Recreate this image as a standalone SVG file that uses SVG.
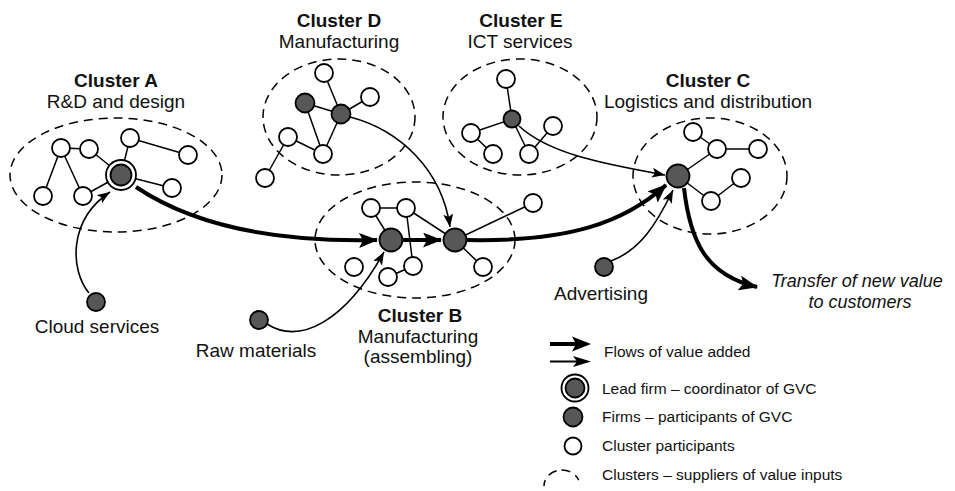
<svg xmlns="http://www.w3.org/2000/svg" width="955" height="491" viewBox="0 0 955 491">
<style>
text{font-family:"Liberation Sans",Arial,sans-serif;fill:#111;}
.lb{font-size:19px;text-anchor:middle;}
.lbb{font-size:19px;font-weight:bold;text-anchor:middle;}
.it{font-size:18px;font-style:italic;text-anchor:middle;}
.lg{font-size:15.5px;}
.cl{fill:none;stroke:#000;stroke-width:1.5;stroke-dasharray:9 6;}
.e{fill:none;stroke:#000;stroke-width:1.5;}
.w{fill:#fff;stroke:#000;stroke-width:1.8;}
.d{fill:#575757;stroke:#000;stroke-width:1.8;}
.thick{fill:none;stroke:#000;stroke-width:4;}
.thin{fill:none;stroke:#000;stroke-width:1.6;}
</style>
<defs>
<marker id="ahT" markerUnits="userSpaceOnUse" markerWidth="20" markerHeight="16" refX="18" refY="7.5" orient="auto"><path d="M0,0 L19,7.5 L0,15 L4,7.5 Z" fill="#000"/></marker>
<marker id="ahS" markerUnits="userSpaceOnUse" markerWidth="14" markerHeight="11" refX="13" refY="5" orient="auto"><path d="M0,0 L13,5 L0,10 L3,5 Z" fill="#000"/></marker>
</defs>
<rect width="955" height="491" fill="#fff"/>

<!-- cluster outlines and titles -->
<g id="clusterA"><ellipse class="cl" cx="116" cy="175" rx="106" ry="57"/><text class="lbb" x="116" y="87">Cluster A</text><text class="lb" x="116" y="108">R&amp;D and design</text></g>
<g id="clusterD"><ellipse class="cl" cx="339" cy="117" rx="76" ry="58"/><text class="lbb" x="339" y="27">Cluster D</text><text class="lb" x="339" y="48">Manufacturing</text></g>
<g id="clusterE"><ellipse class="cl" cx="520" cy="117" rx="77" ry="58"/><text class="lbb" x="521" y="27">Cluster E</text><text class="lb" x="520" y="48">ICT services</text></g>
<g id="clusterC"><ellipse class="cl" cx="710" cy="176" rx="77" ry="58"/><text class="lbb" x="708" y="87">Cluster C</text><text class="lb" x="708" y="108">Logistics and distribution</text></g>
<g id="clusterB"><ellipse class="cl" cx="415" cy="240" rx="100" ry="58"/><text class="lbb" x="420" y="322">Cluster B</text><text class="lb" x="418" y="343">Manufacturing</text><text class="lb" x="418" y="363">(assembling)</text></g>

<g id="connectors">
<!-- cluster A edges -->
<line class="e" x1="61" y1="148" x2="89" y2="149"/>
<line class="e" x1="61" y1="148" x2="43" y2="196"/>
<line class="e" x1="61" y1="148" x2="83" y2="196"/>
<line class="e" x1="89" y1="149" x2="121" y2="175"/>
<line class="e" x1="130" y1="138" x2="121" y2="175"/>
<line class="e" x1="130" y1="138" x2="188" y2="155"/>
<line class="e" x1="83" y1="196" x2="121" y2="175"/>
<line class="e" x1="121" y1="175" x2="172" y2="188"/>
<!-- cluster D edges -->
<line class="e" x1="324" y1="73" x2="341" y2="114"/>
<line class="e" x1="305" y1="103" x2="341" y2="114"/>
<line class="e" x1="341" y1="114" x2="370" y2="97"/>
<line class="e" x1="305" y1="103" x2="323" y2="154"/>
<line class="e" x1="341" y1="114" x2="323" y2="154"/>
<line class="e" x1="288" y1="137" x2="323" y2="154"/>
<line class="e" x1="288" y1="137" x2="265" y2="178"/>
<!-- cluster E edges -->
<line class="e" x1="506" y1="79" x2="512" y2="119"/>
<line class="e" x1="471" y1="133" x2="512" y2="119"/>
<line class="e" x1="471" y1="133" x2="493" y2="154"/>
<line class="e" x1="512" y1="119" x2="529" y2="154"/>
<line class="e" x1="529" y1="154" x2="553" y2="126"/>
<!-- cluster C edges -->
<line class="e" x1="678" y1="176" x2="717" y2="149"/>
<line class="e" x1="693" y1="132" x2="717" y2="149"/>
<line class="e" x1="717" y1="149" x2="758" y2="149"/>
<line class="e" x1="678" y1="176" x2="711" y2="201"/>
<line class="e" x1="711" y1="201" x2="741" y2="178"/>
<!-- cluster B edges -->
<line class="e" x1="371" y1="208" x2="391" y2="240"/>
<line class="e" x1="371" y1="208" x2="406" y2="208"/>
<line class="e" x1="406" y1="208" x2="413" y2="266"/>
<line class="e" x1="406" y1="208" x2="455" y2="240"/>
<line class="e" x1="388" y1="277" x2="413" y2="266"/>
<line class="e" x1="455" y1="240" x2="483" y2="267"/>
<line class="e" x1="455" y1="240" x2="533" y2="203"/>
<!-- value flows -->
<path class="thick" d="M136,187 C200,230 290,242 377,240" marker-end="url(#ahT)"/>
<path class="thick" d="M403,240 L441,240" marker-end="url(#ahT)"/>
<path class="thick" d="M467,240 C570,242 625,222 666,185" marker-end="url(#ahT)"/>
<path class="thick" d="M684,188 C690,240 705,275 757,287" marker-end="url(#ahT)"/>
<path class="thin" d="M89,293 C70,270 68,220 110,192" marker-end="url(#ahS)"/>
<path class="thin" d="M267,324 C300,345 345,322 384,252" marker-end="url(#ahS)"/>
<path class="thin" d="M611,261 C640,250 656,225 673,190" marker-end="url(#ahS)"/>
<path class="thin" d="M350,117 C400,130 442,170 450,227" marker-end="url(#ahS)"/>
<path class="thin" d="M519,126 C550,155 610,165 665,175" marker-end="url(#ahS)"/>
</g>

<!-- nodes -->
<g id="A-lead"><circle class="w" cx="121" cy="175" r="15"/><circle class="d" cx="121" cy="175" r="10.5"/></g>
<g id="A-n1"><circle class="w" cx="61" cy="148" r="9"/></g>
<g id="A-n2"><circle class="w" cx="89" cy="149" r="9"/></g>
<g id="A-n3"><circle class="w" cx="130" cy="138" r="9"/></g>
<g id="A-n4"><circle class="w" cx="188" cy="155" r="9"/></g>
<g id="A-n5"><circle class="w" cx="43" cy="196" r="9"/></g>
<g id="A-n6"><circle class="w" cx="83" cy="196" r="9"/></g>
<g id="A-n7"><circle class="w" cx="172" cy="188" r="9"/></g>

<g id="D-f1"><circle class="d" cx="305" cy="103" r="9.5"/></g>
<g id="D-f2"><circle class="d" cx="341" cy="114" r="9.5"/></g>
<g id="D-n1"><circle class="w" cx="324" cy="73" r="9"/></g>
<g id="D-n2"><circle class="w" cx="370" cy="97" r="9"/></g>
<g id="D-n3"><circle class="w" cx="288" cy="137" r="9"/></g>
<g id="D-n4"><circle class="w" cx="323" cy="154" r="9"/></g>
<g id="D-n5"><circle class="w" cx="265" cy="178" r="9"/></g>

<g id="E-f1"><circle class="d" cx="512" cy="119" r="8.5"/></g>
<g id="E-n1"><circle class="w" cx="506" cy="79" r="9"/></g>
<g id="E-n2"><circle class="w" cx="471" cy="133" r="9"/></g>
<g id="E-n3"><circle class="w" cx="493" cy="154" r="9"/></g>
<g id="E-n4"><circle class="w" cx="529" cy="154" r="9"/></g>
<g id="E-n5"><circle class="w" cx="553" cy="126" r="9"/></g>

<g id="C-f1"><circle class="d" cx="678" cy="176" r="11.5"/></g>
<g id="C-n1"><circle class="w" cx="693" cy="132" r="9"/></g>
<g id="C-n2"><circle class="w" cx="717" cy="149" r="9"/></g>
<g id="C-n3"><circle class="w" cx="758" cy="149" r="9"/></g>
<g id="C-n4"><circle class="w" cx="741" cy="178" r="9"/></g>
<g id="C-n5"><circle class="w" cx="711" cy="201" r="9"/></g>

<g id="B-f1"><circle class="d" cx="391" cy="240" r="11.5"/></g>
<g id="B-f2"><circle class="d" cx="455" cy="240" r="11.5"/></g>
<g id="B-n1"><circle class="w" cx="371" cy="208" r="9"/></g>
<g id="B-n2"><circle class="w" cx="406" cy="208" r="9"/></g>
<g id="B-n3"><circle class="w" cx="354" cy="267" r="9"/></g>
<g id="B-n4"><circle class="w" cx="413" cy="266" r="9"/></g>
<g id="B-n5"><circle class="w" cx="388" cy="277" r="9"/></g>
<g id="B-n6"><circle class="w" cx="483" cy="267" r="9"/></g>
<g id="B-n7"><circle class="w" cx="533" cy="203" r="9"/></g>

<g id="cloud"><circle class="d" cx="96" cy="302" r="9"/><text class="lb" x="97" y="333">Cloud services</text></g>
<g id="raw"><circle class="d" cx="259" cy="320" r="9"/><text class="lb" x="256" y="357">Raw materials</text></g>
<g id="advertising"><circle class="d" cx="604" cy="267" r="9"/><text class="lb" x="601" y="300">Advertising</text></g>
<g id="customers"><text class="it" x="857" y="287">Transfer of new value</text><text class="it" x="860" y="308">to customers</text></g>

<!-- legend -->
<g id="legend">
<line x1="550" y1="344" x2="577" y2="344" stroke="#000" stroke-width="4"/>
<path d="M572,336.5 L591,344 L572,351.5 L576,344 Z" fill="#000"/>
<line x1="550" y1="361.5" x2="578" y2="361.5" stroke="#000" stroke-width="2"/>
<path d="M573,356 L591,361.5 L573,367 L577,361.5 Z" fill="#000"/>
<text class="lg" x="604" y="357">Flows of value added</text>
<circle class="w" cx="575" cy="388" r="13.5"/><circle class="d" cx="575" cy="388" r="9.5"/>
<text class="lg" x="602" y="394">Lead firm – coordinator of GVC</text>
<circle class="d" cx="573" cy="417" r="9.5"/>
<text class="lg" x="602" y="422">Firms – participants of GVC</text>
<circle class="w" cx="573" cy="446" r="8.5"/>
<text class="lg" x="602" y="451">Cluster participants</text>
<path d="M544,486 A18,16 0 0 1 580,486" fill="none" stroke="#000" stroke-width="1.5" stroke-dasharray="6 6 9 5 9 6 6"/>
<text class="lg" x="602" y="480">Clusters – suppliers of value inputs</text>
</g>
</svg>
